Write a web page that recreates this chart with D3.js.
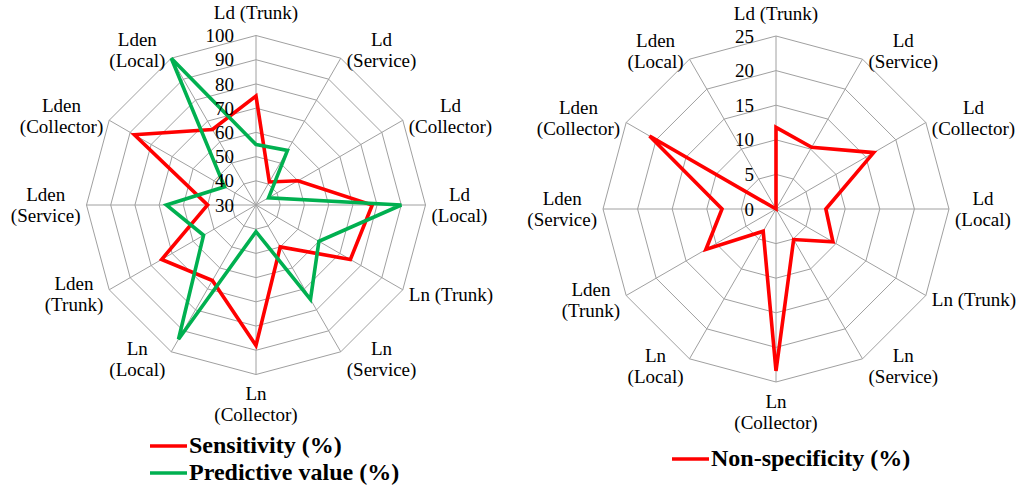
<!DOCTYPE html>
<html><head><meta charset="utf-8">
<script src="https://cdn.jsdelivr.net/npm/d3@7"></script>
<style>body{margin:0;background:#fff}svg{display:block}
svg text{font-family:"Liberation Serif","Times New Roman",Tinos,"DejaVu Serif",serif;}
</style>
</head><body>
<svg id="chart" width="1024" height="491"></svg>
<script>
const categories = ["Ld (Trunk)","Ld (Service)","Ld (Collector)","Ld (Local)","Ln (Trunk)","Ln (Service)","Ln (Collector)","Ln (Local)","Lden (Trunk)","Lden (Service)","Lden (Collector)","Lden (Local)"];
const categoryLines = [["Ld (Trunk)"],["Ld","(Service)"],["Ld","(Collector)"],["Ld","(Local)"],["Ln (Trunk)"],["Ln","(Service)"],["Ln","(Collector)"],["Ln","(Local)"],["Lden","(Trunk)"],["Lden","(Service)"],["Lden","(Collector)"],["Lden","(Local)"]];
const sensitivity = [75, 41, 50, 78, 75, 50, 88, 66, 75, 50, 88, 66];
const predictive = [55, 56, 36, 90, 60, 75, 41, 94, 55, 67, 45, 100];
const nonSpecificity = [11.8, 10.3, 16.3, 7.2, 9.5, 5.1, 23.4, 3.7, 11.7, 7.8, 21.1, 0];
const leftTicks = [30, 40, 50, 60, 70, 80, 90, 100];
const rightTicks = [0, 5, 10, 15, 20, 25];
const legendLeft = ["Sensitivity (%)", "Predictive value (%)"];
const legendRight = ["Non-specificity (%)"];

const RED = "#ff0000", GREEN = "#00b050", GRID = "#a0a0a0";
const svg = d3.select("#chart");
const n = categories.length;
const angle = d3.scaleLinear().domain([0, n]).range([0, 2 * Math.PI]);

function radar(cx, cy, R, domain, ticks, seriesList) {
  const g = svg.append("g").attr("transform", `translate(${cx},${cy})`);
  const r = d3.scaleLinear().domain(domain).range([0, R]);
  const idx = d3.range(n);
  const ringLine = d3.lineRadial().angle(i => angle(i)).curve(d3.curveLinearClosed);
  ticks.filter(t => t > domain[0]).forEach(t => {
    g.append("path").attr("d", ringLine.radius(() => r(t))(idx))
      .attr("fill", "none").attr("stroke", GRID).attr("stroke-width", 1);
  });
  idx.forEach(i => {
    const a = angle(i);
    g.append("line").attr("x1", 0).attr("y1", 0)
      .attr("x2", R * Math.sin(a)).attr("y2", -R * Math.cos(a))
      .attr("stroke", GRID).attr("stroke-width", 1);
  });
  seriesList.forEach(s => {
    const line = d3.lineRadial().angle((d, i) => angle(i)).radius(d => r(d)).curve(d3.curveLinearClosed);
    g.append("path").attr("d", line(s.values)).attr("fill", "none")
      .attr("stroke", s.color).attr("stroke-width", 3.6).attr("stroke-linejoin", "miter");
  });
  g.selectAll("text.tick").data(ticks).enter().append("text")
    .attr("x", -22).attr("y", d => -r(d)).attr("dy", "0.35em")
    .attr("text-anchor", "end")
    .attr("font-size", 19).attr("fill", "#000").text(d => d);
  const lh = 21;
  idx.forEach(i => {
    const a = angle(i);
    const s = Math.sin(a), c = Math.cos(a);
    const vx = R * s, vy = -R * c;
    const lines = categoryLines[i];
    const h = lines.length * lh;
    const t = g.append("text")
      .attr("font-size", 19).attr("fill", "#000").attr("text-anchor", "middle");
    const tsp = lines.map(l => t.append("tspan").text(l));
    const w = d3.max(tsp, ts => ts.node().getComputedTextLength());
    let bx, by;
    if (Math.abs(s) < 0.1) {
      bx = vx;
      by = c > 0 ? vy - h / 2 - 12 : vy + h / 2 + 9;
    } else {
      bx = s > 0 ? vx + 6 + w / 2 : vx - 6 - w / 2;
      by = vy - c * 9;
    }
    tsp.forEach((ts, k) => ts.attr("x", bx).attr("y", by + (k - (lines.length - 1) / 2) * lh).attr("dy", "0.33em"));
  });
}

radar(256, 205, 169.5, [30, 100], leftTicks, [
  {values: sensitivity, color: RED},
  {values: predictive, color: GREEN}
]);
radar(776, 209, 173, [0, 25], rightTicks, [
  {values: nonSpecificity, color: RED}
]);

function legend(x, y, items, colors, gap) {
  items.forEach((txt, i) => {
    const yy = y + i * gap;
    svg.append("line").attr("x1", x).attr("x2", x + 37).attr("y1", yy).attr("y2", yy)
      .attr("stroke", colors[i]).attr("stroke-width", 3.6);
    svg.append("text").attr("x", x + 39).attr("y", yy + 7)
      .attr("font-weight", "bold")
      .attr("font-size", 24).attr("fill", "#000").text(txt);
  });
}
legend(150, 446, legendLeft, [RED, GREEN], 27);
legend(672, 459, legendRight, [RED], 27);
</script>
</body></html>
